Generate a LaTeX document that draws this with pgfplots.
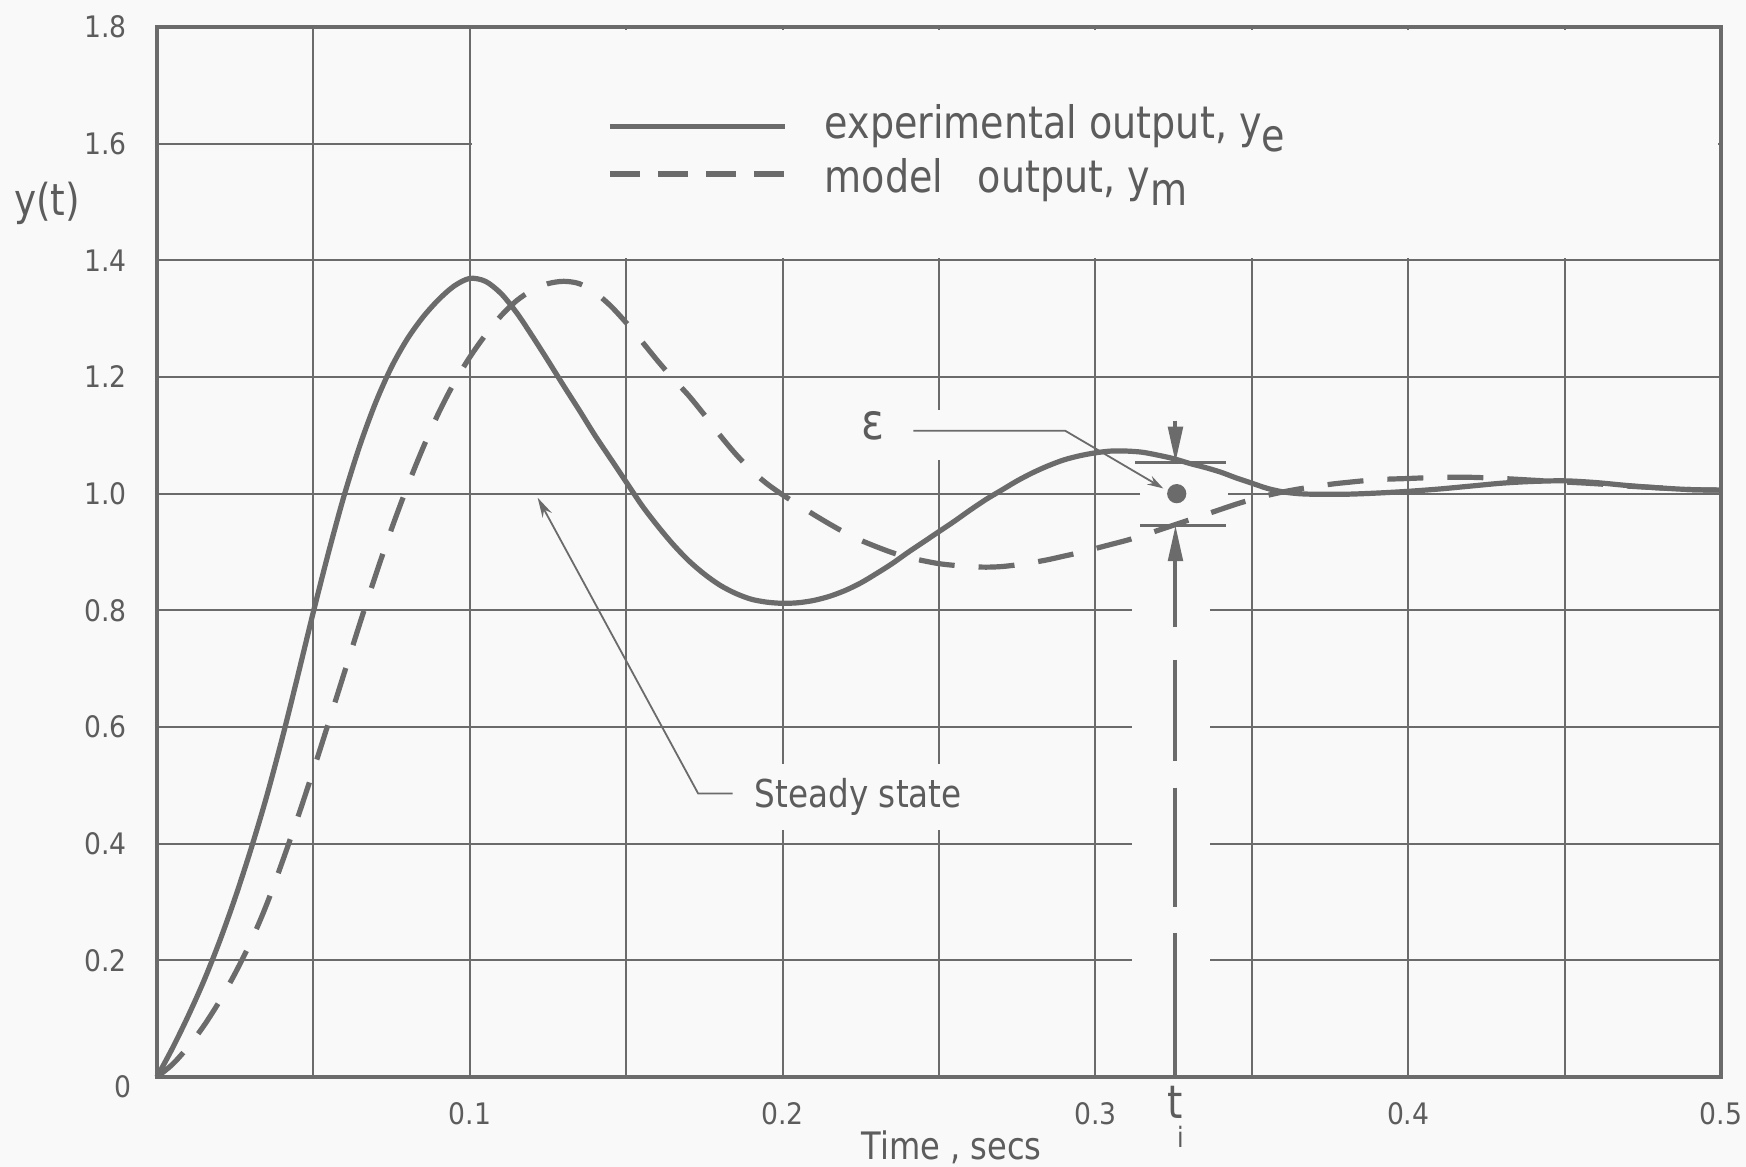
\documentclass[border=0pt]{standalone}
\usepackage{fontspec}
\setmainfont{DejaVu Sans}[FakeStretch=0.85]
\newfontfamily\tickfont{DejaVu Sans}[FakeStretch=0.9]
\usepackage{pgfplots}
\pgfplotsset{compat=1.18}
\usetikzlibrary{calc,arrows.meta}
\definecolor{ink}{gray}{0.42}
\definecolor{txt}{gray}{0.36}
\definecolor{bg}{gray}{0.975}

\begin{document}
\begin{tikzpicture}
\path[use as bounding box, fill=bg] (-39.25pt,-22.5pt) rectangle (397.25pt,269.25pt);
\begin{axis}[
    at={(0,0)}, anchor=south west,
    scale only axis, width=391pt, height=262.5pt,
    xmin=0, xmax=0.5, ymin=0, ymax=1.8,
    xtick={0.05,0.1,0.15,0.2,0.25,0.3,0.35,0.4,0.45,0.5},
    xticklabels={,0.1,,0.2,,0.3,,0.4,,0.5},
    ytick={0,0.2,0.4,0.6,0.8,1.0,1.2,1.4,1.6,1.8},
    yticklabels={,0.2,0.4,0.6,0.8,1.0,1.2,1.4,1.6,1.8},
    major tick length=0pt,
    grid=major,
    grid style={ink, line width=0.5pt},
    axis line style={ink, line width=1pt},
    tick label style={font=\tickfont\fontsize{7.4}{9}\selectfont, text=txt},
    xticklabel style={yshift=-2.8pt},
    yticklabel style={xshift=-4pt},
    clip=false,
]
% blank areas in the grid
\fill[bg] ($(axis cs:0.1,1.4)+(0.5pt,0.5pt)$) rectangle ($(axis cs:0.5,1.8)+(-0.7pt,-0.7pt)$);
\fill[bg] ($(axis cs:0.3117,0)+(0,0.7pt)$) rectangle (axis cs:0.3367,0.99);
\fill[bg] (axis cs:0.3143,0.99) rectangle (axis cs:0.3424,1.01);
\fill[bg] ($(axis cs:0.25,1.058)+(-1pt,0)$) rectangle ($(axis cs:0.25,1.143)+(1pt,0)$);

% experimental output
\addplot[ink, line width=1.3pt, smooth] coordinates {
    (0,0) (0.005,0.05) (0.01,0.105) (0.015,0.165) (0.02,0.2325) (0.025,0.3075)
    (0.03,0.39) (0.035,0.48) (0.04,0.58) (0.045,0.6875) (0.05,0.7975) (0.055,0.9025)
    (0.06,1.0) (0.065,1.085) (0.07,1.1575) (0.075,1.2175) (0.08,1.265) (0.085,1.3025)
    (0.09,1.3325) (0.095,1.356) (0.1,1.369) (0.105,1.364) (0.11,1.343)
    (0.115,1.31) (0.12,1.27) (0.125,1.228) (0.13,1.185) (0.135,1.143) (0.14,1.1)
    (0.145,1.06) (0.15,1.02) (0.155,0.98) (0.16,0.945) (0.165,0.913) (0.17,0.885)
    (0.175,0.862) (0.18,0.843) (0.185,0.829) (0.19,0.819) (0.195,0.814) (0.2,0.812)
    (0.205,0.813) (0.21,0.817) (0.215,0.824) (0.22,0.834) (0.225,0.847) (0.23,0.863)
    (0.235,0.88) (0.24,0.899) (0.245,0.917) (0.25,0.935) (0.255,0.953) (0.26,0.972)
    (0.265,0.99) (0.27,1.006) (0.275,1.022) (0.28,1.036) (0.285,1.048) (0.29,1.058)
    (0.295,1.065) (0.3,1.07) (0.305,1.073) (0.31,1.073) (0.315,1.071) (0.32,1.066)
    (0.325,1.06) (0.33,1.052) (0.335,1.045) (0.34,1.037) (0.345,1.027) (0.35,1.018)
    (0.355,1.009) (0.36,1.003) (0.365,1.0) (0.37,0.999) (0.38,0.999) (0.39,1.001)
    (0.4,1.004) (0.41,1.008) (0.42,1.013) (0.43,1.018) (0.44,1.021) (0.45,1.022)
    (0.46,1.019) (0.47,1.014) (0.48,1.01) (0.49,1.007) (0.5,1.006)
};
% model output
\addplot[ink, line width=1.3pt, smooth, dash pattern=on 9pt off 6pt] coordinates {
    (0,0) (0.005,0.022) (0.01,0.052) (0.015,0.088) (0.02,0.13) (0.025,0.178)
    (0.03,0.232) (0.035,0.295) (0.04,0.368) (0.045,0.445) (0.05,0.526) (0.055,0.61)
    (0.06,0.695) (0.065,0.78) (0.07,0.862) (0.075,0.94) (0.08,1.012) (0.085,1.078)
    (0.09,1.138) (0.095,1.19) (0.1,1.234) (0.105,1.272) (0.11,1.305) (0.115,1.331)
    (0.12,1.349) (0.125,1.36) (0.13,1.364) (0.135,1.36) (0.14,1.345) (0.145,1.322)
    (0.15,1.293) (0.155,1.261) (0.16,1.228) (0.165,1.197) (0.17,1.168) (0.175,1.135)
    (0.18,1.1) (0.185,1.068) (0.19,1.04) (0.195,1.017) (0.2,0.998) (0.205,0.981)
    (0.21,0.964) (0.215,0.948) (0.22,0.933) (0.225,0.92) (0.23,0.909) (0.235,0.899)
    (0.24,0.891) (0.245,0.885) (0.25,0.88) (0.255,0.877) (0.26,0.875) (0.265,0.874)
    (0.27,0.875) (0.275,0.878) (0.28,0.882) (0.285,0.887) (0.29,0.893) (0.295,0.899)
    (0.3,0.906) (0.305,0.913) (0.31,0.92) (0.315,0.928) (0.32,0.937) (0.325,0.946)
    (0.33,0.955) (0.335,0.964) (0.34,0.973) (0.345,0.982) (0.35,0.99) (0.355,0.997)
    (0.36,1.003) (0.365,1.008) (0.37,1.012) (0.375,1.016) (0.38,1.019) (0.39,1.024)
    (0.4,1.026) (0.41,1.028) (0.42,1.028) (0.43,1.026) (0.44,1.023) (0.45,1.02)
    (0.46,1.017) (0.47,1.013) (0.48,1.01) (0.49,1.007) (0.5,1.006)
};
% point at t_i
\addplot[only marks, mark=*, mark size=2.2pt, ink] coordinates {(0.326,1.0)};

% legend
\draw[ink, line width=1.3pt] (axis cs:0.1448,1.630) -- (axis cs:0.2007,1.630);
\draw[ink, line width=1.3pt, dash pattern=on 7.5pt off 4.5pt] (axis cs:0.1448,1.548) -- (axis cs:0.2007,1.548);
\node[anchor=base west, inner sep=0pt, text=txt, font=\fontsize{11.2}{13}\selectfont]
    at (axis cs:0.2132,1.609) {experimental output, y\raisebox{-0.55ex}{e}};
\node[anchor=base west, inner sep=0pt, text=txt, font=\fontsize{11.2}{13}\selectfont]
    at (axis cs:0.2132,1.517) {model\hspace{0.5em} output, y\raisebox{-0.55ex}{m}};

% steady state
\draw[ink, line width=0.45pt, -{Stealth[length=5pt, width=2.6pt]}]
    (axis cs:0.184,0.486) -- (axis cs:0.173,0.486) -- (axis cs:0.1217,0.993);
\node[anchor=west, fill=bg, inner xsep=1.5pt, inner ysep=3.5pt, text=txt,
      font=\fontsize{9.6}{11}\selectfont] at (axis cs:0.189,0.48) {Steady state};

% epsilon
\node[text=txt, font=\fontsize{12.5}{14}\selectfont] at (axis cs:0.2289,1.116) {ε};
\draw[ink, line width=0.45pt, -{Stealth[length=4pt, width=2.4pt]}]
    (axis cs:0.2418,1.108) -- (axis cs:0.2903,1.108) -- (axis cs:0.3217,1.009);

% t_i markers
\draw[ink, line width=1pt, -{Triangle[length=9pt, width=3.6pt]}]
    (axis cs:0.3256,1.125) -- (axis cs:0.3256,1.053);
\draw[ink, line width=1pt, -{Triangle[length=9pt, width=3.6pt]}]
    (axis cs:0.3256,0.771) -- (axis cs:0.3256,0.946);
\draw[ink, line width=1pt] (axis cs:0.3256,0.715) -- (axis cs:0.3256,0.541);
\draw[ink, line width=1pt] (axis cs:0.3256,0.496) -- (axis cs:0.3256,0.291);
\draw[ink, line width=1pt] (axis cs:0.3256,0.247) -- (axis cs:0.3256,0);
\draw[ink, line width=0.8pt] (axis cs:0.3127,1.053) -- (axis cs:0.3418,1.053);
\draw[ink, line width=0.8pt] (axis cs:0.3143,0.946) -- (axis cs:0.3418,0.946);

% labels
\node[text=txt, font=\tickfont\fontsize{7.4}{9}\selectfont] at ($(axis cs:0,0)+(-8.5pt,-2.5pt)$) {0};
\node[text=txt, font=\fontsize{11}{13}\selectfont] at ($(axis cs:0,1.497)+(-27.5pt,0)$) {y(t)};
\node[text=txt, font=\fontsize{9.45}{11}\selectfont] at ($(axis cs:0.254,0)+(0,-17.5pt)$) {Time , secs};
\node[text=txt, anchor=north, inner sep=0pt, font=\fontsize{11.5}{13}\selectfont]
    at ($(axis cs:0.3256,0)+(0,-2pt)$) {t};
\node[text=txt, font=\fontsize{7}{8}\selectfont] at ($(axis cs:0.3272,0)+(0,-15pt)$) {i};
\end{axis}
\end{tikzpicture}
\end{document}
